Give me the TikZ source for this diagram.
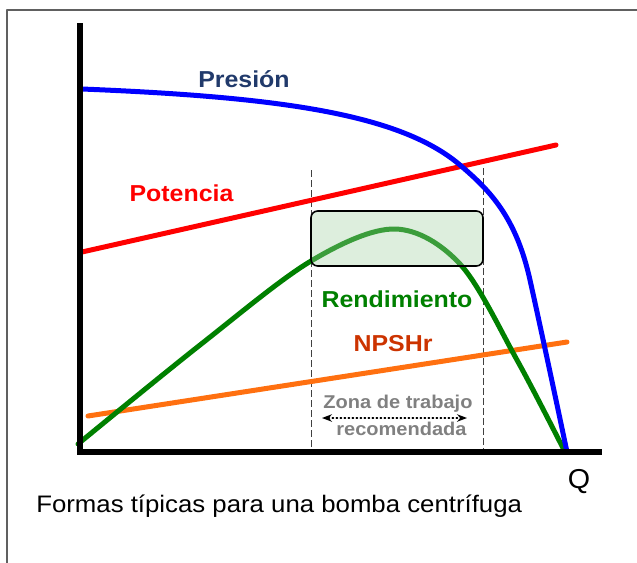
\documentclass[tikz,border=0pt]{standalone}
\usepackage{fontspec}
\setmainfont{Liberation Sans}
\usetikzlibrary{arrows.meta}
\definecolor{azulpres}{HTML}{213A6B}
\definecolor{verderend}{HTML}{008000}
\definecolor{naranjanpsh}{HTML}{FF7010}
\definecolor{textonpsh}{HTML}{CC3300}
\definecolor{grismarco}{HTML}{606060}
\definecolor{verdezona}{HTML}{A2D1A2}
\tikzset{
  etiqueta/.style={font=\bfseries\fontsize{17.3}{19}\selectfont, xscale=1.08, anchor=base, inner sep=0pt},
  zona/.style={font=\bfseries\fontsize{13.9}{16}\selectfont, xscale=1.08, anchor=base, inner sep=0pt, text=gray},
  curva/.style={line width=3.75pt},
  limite/.style={line width=0.75pt, draw=black!75, dash pattern=on 5pt off 2.5pt, line cap=butt}
}
\begin{document}
\begin{tikzpicture}[x=0.75pt, y=-0.75pt, >=Stealth, line join=round, line cap=round]
		\useasboundingbox (0,0) rectangle (637,562);
		\draw[grismarco, line width=1.2pt, line cap=butt] (640,10)--(7,10)--(7,565);
		\draw[limite] (311,170)--(311,452);
		\draw[limite] (483,168)--(483,452);
		\draw[curva, red] (82,252)--(556,145);
		\draw[curva, naranjanpsh] (88,416)--(567,342);
		\draw[curva, verderend] plot[smooth, tension=0.55] coordinates {(78,444) (200,345) (311,261) (395,229) (460,264) (517,360) (565,452)};
		\draw[curva, blue] (82,89) .. controls (280,97) and (400,114) .. (460,165)
			.. controls (490,190.5) and (516,217) .. (530,280)
			.. controls (542,334) and (555,395) .. (567,452);
		\draw[line width=1.2pt, rounded corners=5pt, fill=verdezona, fill opacity=0.37, draw opacity=1] (311,211) rectangle (483,266);
		\draw[line width=4pt, line cap=butt, line join=miter] (80,23)--(80,452)--(602,452);
		\node[etiqueta, text=azulpres] (presion) at (244,87) {Presión};
		\node[etiqueta, text=red] (potencia) at (181.5,201) {Potencia};
		\node[etiqueta, text=verderend] (rendimiento) at (397,307) {Rendimiento};
		\node[etiqueta, text=textonpsh] (npshr) at (393,351) {NPSHr};
		\node[zona] (zonatrabajo) at (398,408) {Zona de trabajo};
		\node[zona] (recomendada) at (401.5,435) {recomendada};
		\coordinate (zonaizq) at (322,418);
		\coordinate (zonader) at (467,418);
		\draw[<->, dotted, line width=1pt] (zonaizq)--(zonader);
		\node[font=\fontsize{20.5}{22}\selectfont, xscale=1.05, anchor=base, inner sep=0pt] (caudal) at (579,488) {Q};
		\node[font=\fontsize{17.9}{20}\selectfont, xscale=1.08, anchor=base west, inner sep=0pt] (pie) at (36,512) {Formas típicas para una bomba centrífuga};
\end{tikzpicture}
\end{document}
